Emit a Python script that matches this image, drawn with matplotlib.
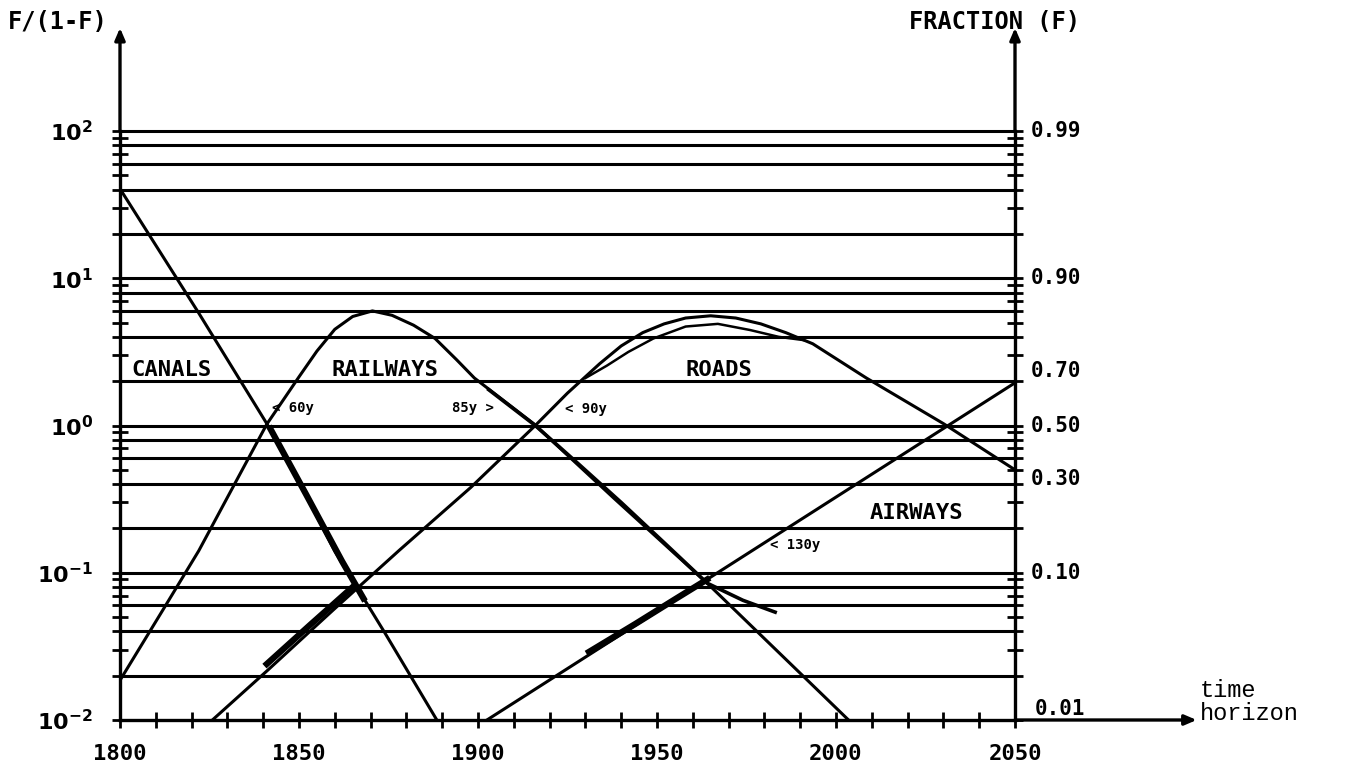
import matplotlib
matplotlib.use("Agg")
import matplotlib.pyplot as plt
import matplotlib.transforms as mtransforms

# curvas ajustadas: ano e F/(1-F)
canals_year = [1800, 1822, 1841, 1853, 1860, 1874, 1888.5]
canals_val = [40.5, 5.8, 1.03, 0.30, 0.14, 0.039, 0.01]

railways_year = [1800, 1812, 1822, 1832, 1841, 1850, 1855, 1860, 1865, 1870.5,
                 1876, 1882, 1888, 1894, 1899, 1915.5, 1938, 1964, 2003.5]
railways_val = [0.0186, 0.056, 0.141, 0.40, 1.02, 2.14, 3.2, 4.5, 5.5, 6.0,
                5.6, 4.8, 3.9, 2.8, 2.1, 1.03, 0.32, 0.085, 0.01]

roads_year = [1825, 1841, 1859.5, 1878, 1898, 1916, 1925, 1934, 1940, 1946, 1952,
              1958, 1965, 1972, 1979, 1986, 1993.5, 2008.5, 2030, 2050]
roads_val = [0.0096, 0.0215, 0.0557, 0.142, 0.38, 1.0, 1.66, 2.63, 3.47, 4.27, 4.9,
             5.37, 5.56, 5.37, 4.9, 4.27, 3.59, 2.1, 1.03, 0.5]

airways_year = [1902.5, 2050]
airways_val = [0.01, 1.95]

# trechos de dados observados
canals_obs_year = [1842, 1852, 1862, 1868]
canals_obs_val = [0.95, 0.34, 0.12, 0.067]

roads_obs1_year = [1841, 1853, 1865]
roads_obs1_val = [0.024, 0.044, 0.08]
roads_obs2_year = [1930, 1936, 1942, 1949, 1958, 1967, 1976, 1984, 1991]
roads_obs2_val = [2.1, 2.55, 3.16, 3.9, 4.7, 4.9, 4.45, 4.0, 3.8]

railways_obs_year = [1903, 1916, 1928, 1940, 1952, 1964, 1974, 1983]
railways_obs_val = [1.75, 1.0, 0.55, 0.30, 0.16, 0.085, 0.065, 0.054]

airways_obs_year = [1931, 1944, 1955, 1964]
airways_obs_val = [0.029, 0.045, 0.066, 0.09]

# linhas horizontais e rotulos
grid_levels = [0.02, 0.04, 0.06, 0.08, 0.1, 0.2, 0.4, 0.6, 0.8, 1, 2, 4, 6, 8,
               10, 20, 40, 60, 80, 100]
left_ticks = [0.01, 0.1, 1, 10, 100]
left_labels = [r"$10^{-2}$", r"$10^{-1}$", r"$10^{0}$", r"$10^{1}$", r"$10^{2}$"]
right_pos = [100, 10, 2.33, 1, 0.43, 0.1]
right_labels = ["0.99", "0.90", "0.70", "0.50", "0.30", "0.10"]
year_ticks = [1800, 1850, 1900, 1950, 2000, 2050]

mono = "DejaVu Sans Mono"
plt.rcParams["mathtext.default"] = "bf"

fig = plt.figure(figsize=(13.57, 7.76), dpi=100)
ax = fig.add_axes([120 / 1357, 56 / 776, 895 / 1357, 589 / 776])
ax.set_yscale("log")
ax.set_xlim(1800, 2050)
ax.set_ylim(0.01, 100)

for g in grid_levels:
    ax.axhline(g, color="black", lw=2.2, zorder=1, clip_on=False)

lw = 2.2
ax.plot(canals_year, canals_val, color="black", lw=lw)
ax.plot(railways_year, railways_val, color="black", lw=lw)
ax.plot(roads_year, roads_val, color="black", lw=lw)
ax.plot(airways_year, airways_val, color="black", lw=lw)

ax.plot(canals_obs_year, canals_obs_val, color="black", lw=4.5)
ax.plot(roads_obs1_year, roads_obs1_val, color="black", lw=4.5)
ax.plot(roads_obs2_year, roads_obs2_val, color="black", lw=1.8)
ax.plot(railways_obs_year, railways_obs_val, color="black", lw=2.6)
ax.plot(airways_obs_year, airways_obs_val, color="black", lw=4.5)

# eixos
ax.spines["top"].set_visible(False)
for s in ["left", "right", "bottom"]:
    ax.spines[s].set_linewidth(2.4)

ax.set_xticks(year_ticks)
ax.set_xticks(range(1800, 2051, 10), minor=True)
ax.set_xticklabels([str(y) for y in year_ticks], fontfamily=mono,
                   fontweight="bold", fontsize=16)
ax.set_yticks(left_ticks)
ax.set_yticklabels(left_labels, fontsize=16)
ax.yaxis.set_minor_locator(matplotlib.ticker.LogLocator(subs=range(2, 10)))
ax.yaxis.set_minor_formatter(matplotlib.ticker.NullFormatter())
ax.tick_params(axis="both", which="both", direction="inout", width=2,
               length=11, right=True)
ax.tick_params(axis="x", pad=12)
ax.tick_params(axis="y", pad=14)

trans = mtransforms.blended_transform_factory(ax.transAxes, ax.transData)
for p, lab in zip(right_pos, right_labels):
    ax.text(1.018, p, lab, transform=trans, fontfamily=mono, fontweight="bold",
            fontsize=15, va="center", ha="left", clip_on=False)
ax.text(1.022, 0.0102, "0.01", transform=trans, fontfamily=mono,
        fontweight="bold", fontsize=15, va="bottom", ha="left", clip_on=False)

# setas dos eixos
arrow = dict(arrowstyle="-|>,head_length=0.7,head_width=0.3", lw=2.4, color="black",
             shrinkA=0, shrinkB=0)
ax.annotate("", xy=(0, 1.175), xytext=(0, 1), xycoords="axes fraction",
            arrowprops=arrow, annotation_clip=False)
ax.annotate("", xy=(1, 1.175), xytext=(1, 1), xycoords="axes fraction",
            arrowprops=arrow, annotation_clip=False)
ax.annotate("", xy=(1.203, 0), xytext=(1, 0), xycoords="axes fraction",
            arrowprops=arrow, annotation_clip=False)

fig.text(8 / 1357, 1 - 22 / 776, "F/(1-F)", fontfamily=mono, fontweight="bold",
         fontsize=17, va="center", ha="left")
fig.text(995 / 1357, 1 - 22 / 776, "FRACTION (F)", fontfamily=mono,
         fontweight="bold", fontsize=17, va="center", ha="center")
fig.text(1200 / 1357, 1 - 702 / 776, "time\nhorizon", fontfamily="Liberation Mono",
         fontsize=17, va="center", ha="left", linespacing=1.0)

# rotulos das curvas
big = dict(fontfamily=mono, fontweight="bold", fontsize=16, va="center",
           ha="center", zorder=5)
ax.text(1814.5, 2.4, "CANALS", **big)
ax.text(1874, 2.4, "RAILWAYS", **big)
ax.text(1967.3, 2.4, "ROADS", **big)
ax.text(2022.6, 0.253, "AIRWAYS", **big)

small = dict(fontfamily=mono, fontweight="bold", fontsize=10, va="center",
             ha="left", zorder=5)
ax.text(1842.5, 1.32, "< 60y", **small)
ax.text(1892.7, 1.32, "85y >", **small)
ax.text(1924.3, 1.30, "< 90y", **small)
ax.text(1981.6, 0.154, "< 130y", **small)

fig.savefig("out.png", dpi=100)
